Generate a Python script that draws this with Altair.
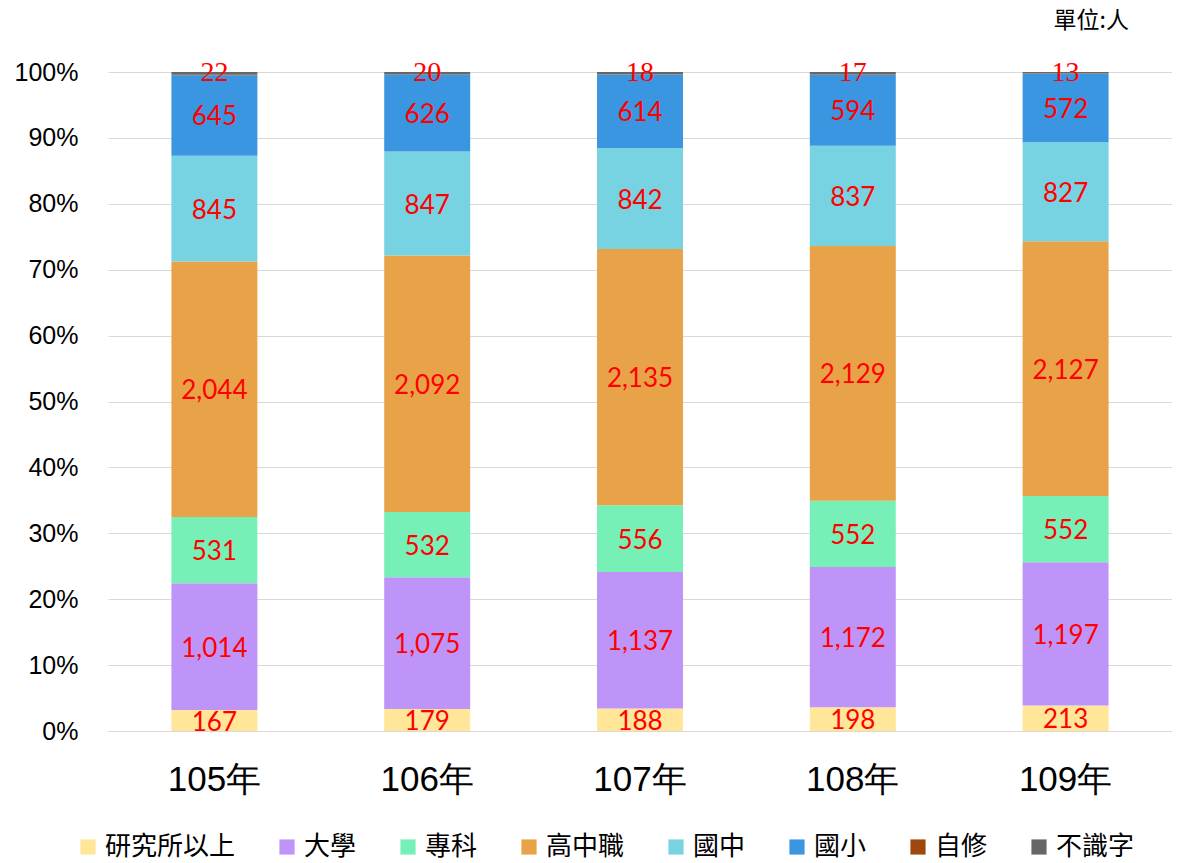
import altair as alt
import pandas as pd

years = ["105年", "106年", "107年", "108年", "109年"]
categories = ["研究所以上", "大學", "專科", "高中職", "國中", "國小", "自修", "不識字"]
colors = ["#FFE699", "#BF94F8", "#77F0B8", "#E8A348", "#77D2E2", "#3A96E0", "#9E480E", "#666666"]
v_grad = [167, 179, 188, 198, 213]
v_univ = [1014, 1075, 1137, 1172, 1197]
v_coll = [531, 532, 556, 552, 552]
v_high = [2044, 2092, 2135, 2129, 2127]
v_junior = [845, 847, 842, 837, 827]
v_elem = [645, 626, 614, 594, 572]
v_self = [3, 3, 2, 4, 2]
v_illit = [22, 20, 18, 17, 13]

series = [v_grad, v_univ, v_coll, v_high, v_junior, v_elem, v_self, v_illit]
rows = []
for ci, (cat, vals) in enumerate(zip(categories, series)):
    for y, v in zip(years, vals):
        rows.append({"year": y, "cat": cat, "order": ci, "value": v})
df = pd.DataFrame(rows)

base = alt.Chart(df).transform_stack(
    stack="value", groupby=["year"], as_=["v0", "v1"],
    sort=[alt.SortField("order", order="ascending")], offset="normalize"
).transform_calculate(mid="(datum.v0 + datum.v1) / 2")

x = alt.X("year:N", sort=years, title=None,
          scale=alt.Scale(paddingInner=0.596, paddingOuter=0.298),
          axis=alt.Axis(labelFontSize=35, labelFont="Liberation Sans", labelColor="black",
                        labelAngle=0, ticks=False, domainColor="#d9d9d9", labelPadding=31))

bars = base.mark_bar().encode(
    x=x,
    y=alt.Y("v0:Q", scale=alt.Scale(domain=[0, 1]), title=None,
            axis=alt.Axis(format="%", values=[i / 10 for i in range(11)], labelFontSize=25,
                          labelFont="Liberation Sans", labelColor="black", ticks=False,
                          domain=False, gridColor="#d9d9d9", labelPadding=30)),
    y2="v1:Q",
    color=alt.Color("cat:N", sort=categories, title=None,
                    scale=alt.Scale(domain=categories, range=colors),
                    legend=alt.Legend(orient="none", legendX=-33, legendY=762, direction="horizontal",
                                      columns=8, symbolType="square", symbolSize=230,
                                      symbolStrokeWidth=0, labelFont="Noto Sans CJK TC",
                                      labelFontSize=26, labelColor="black", columnPadding=38,
                                      labelOffset=4, labelLimit=300)),
)

labels = base.transform_filter(
    (alt.datum.cat != "自修") & (alt.datum.cat != "不識字")
).mark_text(color="#FF0000", fontSize=26, font="Lato", dy=2).encode(
    x=alt.X("year:N", sort=years),
    y=alt.Y("mid:Q"),
    text=alt.Text("value:Q", format=","),
)

top_labels = base.transform_filter(alt.datum.cat == "不識字").mark_text(
    color="#FF0000", fontSize=28, font="Liberation Serif", dy=1
).encode(
    x=alt.X("year:N", sort=years),
    y=alt.Y("v1:Q"),
    text=alt.Text("value:Q", format=","),
)

chart = alt.layer(bars, labels, top_labels).properties(
    width=1064, height=659,
    title=alt.TitleParams("單位:人", anchor="end", fontSize=23, font="Noto Sans CJK TC",
                          fontWeight="normal", color="black", dx=-43, offset=26),
    autosize=alt.AutoSizeParams(type="none"),
    padding={"left": 100, "top": 64, "right": 0, "bottom": 131},
).configure_view(stroke=None)

chart.save("out.html", embed_options={"renderer": "svg", "actions": False})
